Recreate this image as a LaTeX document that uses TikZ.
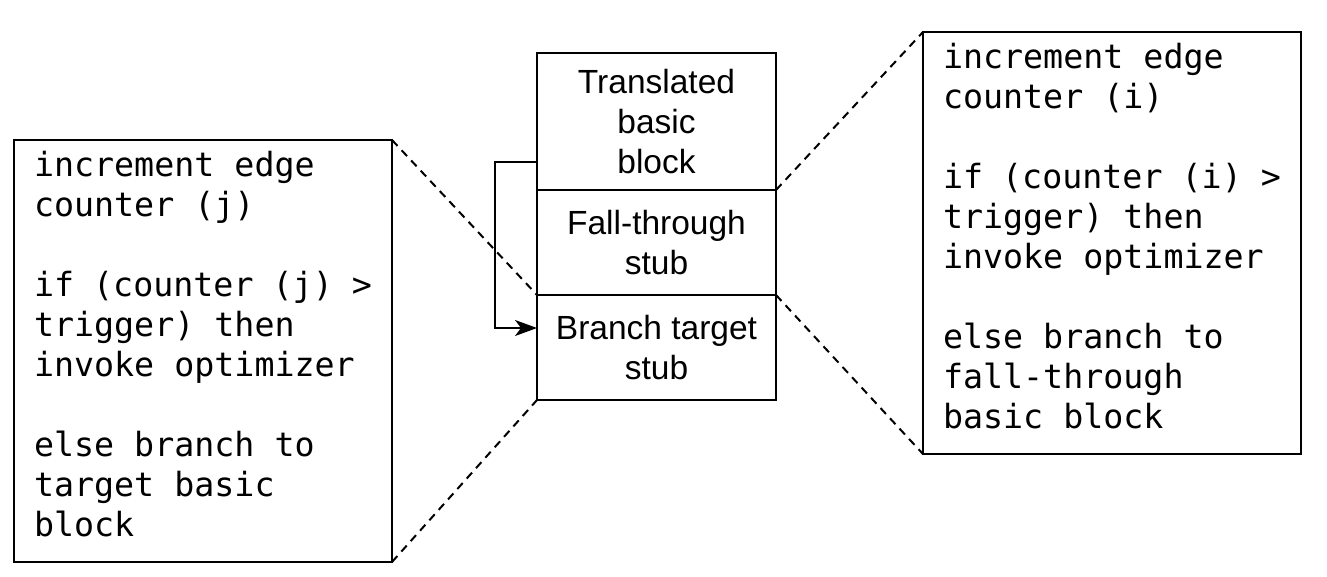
\documentclass[tikz,border=0pt]{standalone}
\usepackage{fontspec}
\setmainfont{Liberation Sans}
\newfontfamily\codefont{DejaVu Sans Mono}
\usetikzlibrary{arrows.meta,calc,positioning}
\tikzset{
  codebox/.style={draw,line width=2.5pt,anchor=north west,outer sep=0pt,
    minimum width=378pt,minimum height=422pt,text width=338pt,
    inner xsep=20pt,inner ysep=0pt,align=flush left,text height=12pt,
    font=\codefont\fontsize{33.3}{40}\selectfont},
  stubbox/.style={draw,line width=2.5pt,outer sep=0pt,minimum width=239pt,
    align=center,inner sep=0pt,font=\fontsize{33.5}{40}\selectfont},
  zoomline/.style={line width=2pt,dash pattern=on 8pt off 6pt},
  loopline/.style={line width=2pt,-{Stealth[length=22pt,width=16pt,inset=6pt]}}
}

\begin{document}
\begin{tikzpicture}[x=1pt,y=-1pt]
\useasboundingbox (0,0) rectangle (1327,576);

% code of the two stubs
\node[codebox] (jbox) at (14,140) {increment edge\\counter (j)\\[40pt]if (counter (j) >\\trigger) then\\invoke optimizer\\[40pt]else branch to\\target basic\\block};
\node[codebox] (ibox) at (923,32) {increment edge\\counter (i)\\[40pt]if (counter (i) >\\trigger) then\\invoke optimizer\\[40pt]else branch to\\fall-through\\basic block};

% translated block with its stubs
\node[stubbox,minimum height=137pt,anchor=north west] (trans) at (537,53) {Translated\\basic\\block};
\node[stubbox,minimum height=105pt,below=0pt of trans] (fall) {Fall-through\\stub};
\node[stubbox,minimum height=105pt,below=0pt of fall] (target) {Branch target\\stub};

\coordinate (loopout) at ($(trans.south west)+(0,-28)$);
\coordinate (loopin) at ($(target.north west)+(0,33)$);
\draw[loopline] (loopout) -- ++(-42,0) |- (loopin);

% zoom lines
\draw[zoomline] (jbox.north east) -- (target.north west);
\draw[zoomline] (jbox.south east) -- (target.south west);
\draw[zoomline] (trans.south east) -- (ibox.north west);
\draw[zoomline] (fall.south east) -- (ibox.south west);

\end{tikzpicture}
\end{document}
